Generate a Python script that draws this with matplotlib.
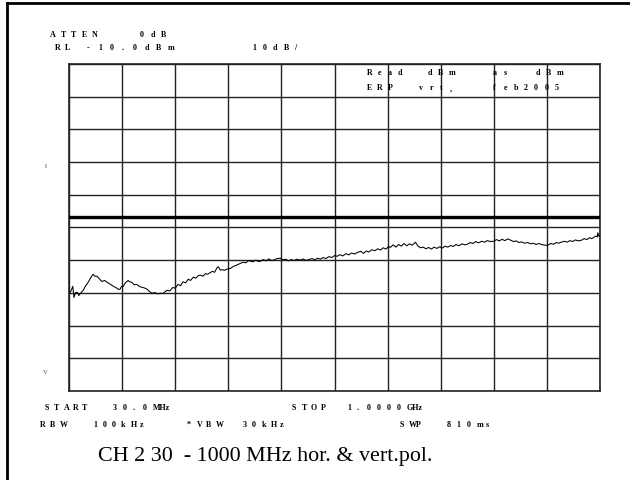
import matplotlib
matplotlib.use("Agg")
import matplotlib.pyplot as plt
from matplotlib.lines import Line2D

# sweep: frequency (MHz) and level (dBm)
freq_mhz = [
    30, 33, 37, 39, 42, 45, 48, 52, 56, 60, 64, 68, 71, 74, 77, 81, 85, 90, 95, 100,
    105, 111, 116, 120, 123, 126, 129, 133, 138, 141, 145, 149, 154, 159, 164, 168, 173, 177, 182, 187,
    192, 197, 202, 205, 209, 214, 220, 224, 229, 234, 238, 243, 248, 252, 257, 262, 266, 270, 275, 279,
    283, 288, 292, 296, 300, 303, 306, 310, 314, 319, 325, 330, 335, 340, 344, 348, 353, 358, 361, 366,
    371, 376, 380, 385, 390, 395, 400, 405, 410, 416, 421, 426, 431, 436, 441, 446, 453, 458, 463, 468,
    474, 479, 484, 489, 494, 499, 505, 510, 515, 520, 525, 530, 536, 541, 546, 552, 557, 563, 568, 573,
    578, 583, 589, 594, 599, 604, 609, 614, 617, 622, 627, 632, 637, 642, 647, 652, 657, 663, 667, 672,
    677, 682, 687, 692, 697, 702, 707, 712, 717, 722, 727, 732, 737, 742, 748, 753, 758, 763, 768, 773,
    778, 784, 789, 794, 800, 806, 811, 816, 821, 826, 832, 837, 842, 847, 852, 857, 862, 868, 873, 878,
    883, 888, 892, 898, 905, 910, 915, 920, 925, 929, 935, 940, 945, 950, 955, 960, 966, 971, 976, 981,
    985, 989, 992, 995, 996, 998, 1000,
]
level_dbm = [
    -80.1, -79.6, -78.0, -81.4, -79.9, -79.8, -80.8, -79.9, -79.2, -77.9, -77.0, -75.9, -75.0, -74.3, -74.9, -74.9, -75.6, -76.5, -76.2, -76.8,
    -77.3, -78.0, -78.4, -78.9, -78.9, -78.0, -78.0, -76.9, -76.2, -76.6, -76.8, -77.5, -77.4, -78.1, -78.3, -78.5, -78.9, -79.6, -80.1, -79.9,
    -80.3, -80.1, -80.2, -79.7, -79.2, -79.4, -78.3, -78.6, -77.4, -77.8, -76.6, -76.9, -75.8, -76.2, -75.2, -75.5, -74.7, -74.6, -74.9, -74.1,
    -74.3, -73.8, -73.4, -73.7, -72.4, -72.0, -73.0, -72.9, -73.1, -72.7, -72.5, -71.9, -71.6, -71.2, -70.9, -70.6, -70.8, -70.1, -70.3, -70.5,
    -70.0, -70.4, -70.3, -69.8, -70.2, -69.6, -70.1, -69.9, -69.5, -69.4, -69.9, -69.7, -70.2, -69.8, -70.1, -69.7, -70.0, -69.6, -70.1, -69.8,
    -69.5, -69.9, -69.4, -69.7, -69.2, -69.5, -68.9, -69.2, -68.6, -68.8, -68.3, -68.7, -68.0, -68.4, -67.8, -68.1, -67.6, -67.3, -67.9, -67.2,
    -67.5, -66.8, -67.1, -66.5, -66.9, -66.2, -66.6, -65.8, -66.1, -65.3, -66.0, -65.2, -65.7, -64.9, -65.6, -65.0, -65.4, -64.5, -65.6, -66.2,
    -66.0, -66.5, -66.1, -66.6, -66.0, -66.4, -65.9, -66.3, -65.7, -66.0, -65.5, -65.8, -65.2, -65.6, -65.0, -65.3, -65.1, -64.6, -64.9, -64.3,
    -64.7, -64.2, -64.5, -64.0, -64.3, -64.2, -63.7, -64.1, -63.6, -64.0, -63.5, -63.9, -64.3, -64.1, -64.6, -64.4, -64.8, -64.6, -65.0, -64.8,
    -65.2, -64.9, -65.1, -65.4, -65.4, -64.9, -65.1, -64.6, -64.8, -64.5, -64.2, -64.5, -64.0, -64.3, -63.8, -64.1, -63.9, -63.4, -63.7, -63.1,
    -63.4, -63.0, -62.6, -62.9, -61.6, -62.7, -62.5,
]

ref_level = -10.0      # RL
db_per_div = 10.0
limit_dbm = -56.9      # thick limit line
f_start, f_stop = 30.0, 1000.0

W, H = 630, 481
fig = plt.figure(figsize=(W / 100, H / 100), dpi=100)
fig.patch.set_facecolor("white")

# plot area in pixels: x 69..600, y 65..392
ax = fig.add_axes([69 / W, 1 - 392 / H, 531 / W, 327 / H])
ax.set_xlim(f_start, f_stop)
ax.set_ylim(ref_level - 10 * db_per_div, ref_level)

xdiv = [f_start + i * (f_stop - f_start) / 10 for i in range(11)]
ydiv = [ref_level - i * db_per_div for i in range(11)]
ax.set_xticks(xdiv)
ax.set_yticks(ydiv)
ax.tick_params(length=0, labelbottom=False, labelleft=False)
ax.grid(True, color="#222222", linewidth=1.0)
for s in ax.spines.values():
    s.set_linewidth(1.2)
    s.set_color("#222222")

ax.axhline(limit_dbm, color="black", linewidth=2.4, zorder=3)
ax.plot(freq_mhz, level_dbm, color="black", linewidth=0.75, zorder=4)

# frame around the screenshot
fig.add_artist(Line2D([7 / W, 1.0], [1 - 4 / H, 1 - 4 / H], color="black", linewidth=2.0,
                      transform=fig.transFigure))
fig.add_artist(Line2D([7 / W, 7 / W], [1 - 4 / H, 0.0], color="black", linewidth=2.0,
                      transform=fig.transFigure))


def label(x, y, s, pitch=10.0, size=5.8):
    # analyser annotations are printed at a fixed character pitch
    for i, tok in enumerate(s.split(" ")):
        fig.text((x + i * pitch) / W, 1 - y / H, tok, fontsize=size,
                 family="Liberation Serif", weight="bold", ha="left", va="center",
                 zorder=5)


label(50, 35, "A T T E N", pitch=10.5)
label(140, 35, "0 d B", pitch=10.5)
label(55, 48, "R L", pitch=10)
label(87, 48, "- 1 0 . 0 d B m", pitch=11.5)
label(252, 48, "1 0 d B /", pitch=10.5)

label(367, 73, "R e a d", pitch=10.3)
label(428, 73, "d B m", pitch=10.3)
label(493, 73, "a s", pitch=10.3)
label(536, 73, "d B m", pitch=10.3)
label(367, 88, "E R P", pitch=10.3)
label(419, 88, "v r t ,", pitch=10.3)
label(493, 88, "f e b 2 0 0 5", pitch=10.3)

label(45, 408, "S T A R T", pitch=9.3)
label(113, 408, "3 0 . 0 MHz", pitch=10)
label(292, 408, "S T O P", pitch=9.5)
label(347, 408, "1 . 0 0 0 0 GHz", pitch=10)
label(40, 425, "R B W", pitch=10)
label(93, 425, "1 0 0 k H z", pitch=9.4)
label(187, 425, "* V B W", pitch=9.5)
label(243, 425, "3 0 k H z", pitch=9.2)
label(400, 425, "S WP", pitch=8.5)
label(447, 425, "8 1 0 m s", pitch=9.8)

# stray marks on the left margin
fig.text(45 / W, 1 - 166 / H, "ı", fontsize=5, color="#444444", ha="center", va="center")
fig.text(45 / W, 1 - 373 / H, "V", fontsize=5, color="#444444", ha="center", va="center",
         family="Liberation Serif")

fig.text(98 / W, 1 - 457 / H, "CH 2 30  - 1000 MHz hor. & vert.pol.", fontsize=15.8,
         family="Liberation Serif", ha="left", va="center")

fig.savefig("out.png", dpi=100, facecolor="white")
